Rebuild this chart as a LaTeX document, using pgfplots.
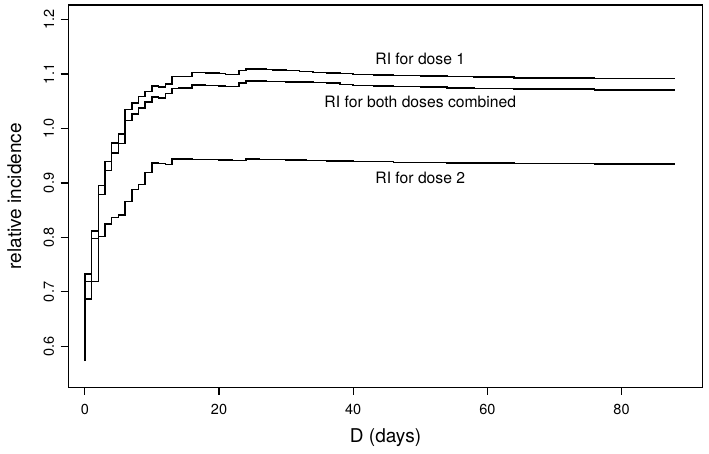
\documentclass[border=0pt]{standalone}
\usepackage{fontspec}
\setmainfont{TeX Gyre Heros}
\usepackage{pgfplots}
\pgfplotsset{compat=1.18}

\begin{document}
\begin{tikzpicture}
\begin{axis}[
  scale only axis,
  width=634.4pt, height=382.3pt,
  xmin=-2.47, xmax=92.1,
  ymin=0.525, ymax=1.2266,
  xtick={0,20,40,60,80},
  ytick={0.6,0.7,0.8,0.9,1.0,1.1,1.2},
  tick align=outside,
  xtick pos=left, ytick pos=left,
  major tick length=7.7pt,
  axis line style={draw=black, line width=1.1pt},
  tick style={line width=1.1pt, black},
  /pgf/number format/assume math mode=true,
  ticklabel style={font=\fontsize{14.5}{16}\selectfont},
  xticklabel style={yshift=-6pt},
  yticklabel style={rotate=90, anchor=south, yshift=3pt,
    /pgf/number format/.cd, fixed, fixed zerofill, precision=1},
  xlabel={D (days)},
  ylabel={relative incidence},
  label style={font=\fontsize{19}{22}\selectfont},
  xlabel style={at={(axis description cs:0.5,0)}, anchor=center, yshift=-50pt},
  ylabel style={at={(axis description cs:0,0.5)}, anchor=center, yshift=54pt},
]
% RI for dose 1
\addplot[black, line width=1.5pt, const plot, mark=none] coordinates {
  (0,0.719) (0,0.733) (1,0.812) (2,0.895) (3,0.939) (4,0.973) (5,0.990)
  (6,1.035) (7,1.047) (8,1.059) (9,1.068) (10,1.078) (11,1.076) (12,1.082)
  (13,1.095) (14,1.095) (15,1.095) (16,1.103) (17,1.103) (18,1.102) (19,1.102)
  (20,1.101) (21,1.099) (22,1.099) (23,1.106) (24,1.109) (25,1.109) (26,1.109)
  (27,1.108) (28,1.107) (30,1.106) (32,1.105) (34,1.103) (36,1.102) (38,1.101)
  (40,1.099) (43,1.098) (46,1.097) (50,1.096) (54,1.095) (58,1.094) (64,1.093)
  (70,1.093) (76,1.092) (82,1.092) (88,1.092)
};
% RI for both doses combined
\addplot[black, line width=1.5pt, const plot, mark=none] coordinates {
  (0,0.687) (1,0.798) (2,0.879) (3,0.923) (4,0.955) (5,0.972)
  (6,1.015) (7,1.027) (8,1.038) (9,1.049) (10,1.058) (11,1.056) (12,1.064)
  (13,1.073) (14,1.074) (15,1.074) (16,1.080) (17,1.080) (18,1.079) (19,1.079)
  (20,1.078) (21,1.077) (22,1.077) (23,1.083) (24,1.087) (25,1.087) (26,1.087)
  (27,1.086) (28,1.086) (30,1.085) (32,1.085) (34,1.084) (36,1.083) (38,1.081)
  (40,1.079) (43,1.078) (46,1.077) (50,1.076) (54,1.074) (58,1.073) (64,1.072)
  (70,1.072) (76,1.071) (82,1.071) (88,1.071)
};
% RI for dose 2
\addplot[black, line width=1.5pt, const plot, mark=none] coordinates {
  (0,0.573) (0,0.719) (2,0.802) (3,0.825) (4,0.837) (5,0.841)
  (6,0.866) (7,0.888) (8,0.897) (9,0.919) (10,0.937) (11,0.936) (12,0.934)
  (13,0.944) (14,0.944) (16,0.943) (18,0.943) (20,0.942) (22,0.941) (23,0.941)
  (24,0.944) (26,0.943) (28,0.943) (30,0.942) (33,0.941) (36,0.940) (40,0.939)
  (46,0.938) (50,0.938) (54,0.937) (58,0.937) (64,0.936) (70,0.936) (76,0.935)
  (82,0.935) (88,0.935)
};
\node[font=\fontsize{15.7}{18}\selectfont] at (axis cs:50,1.127) {RI for dose 1};
\node[font=\fontsize{15.7}{18}\selectfont] at (axis cs:50,1.049) {RI for both doses combined};
\node[font=\fontsize{15.7}{18}\selectfont] at (axis cs:50,0.910) {RI for dose 2};
\end{axis}
\pgfresetboundingbox
\path (-68.3pt,-66.7pt) rectangle (640.7pt,387.3pt);
\end{tikzpicture}
\end{document}
